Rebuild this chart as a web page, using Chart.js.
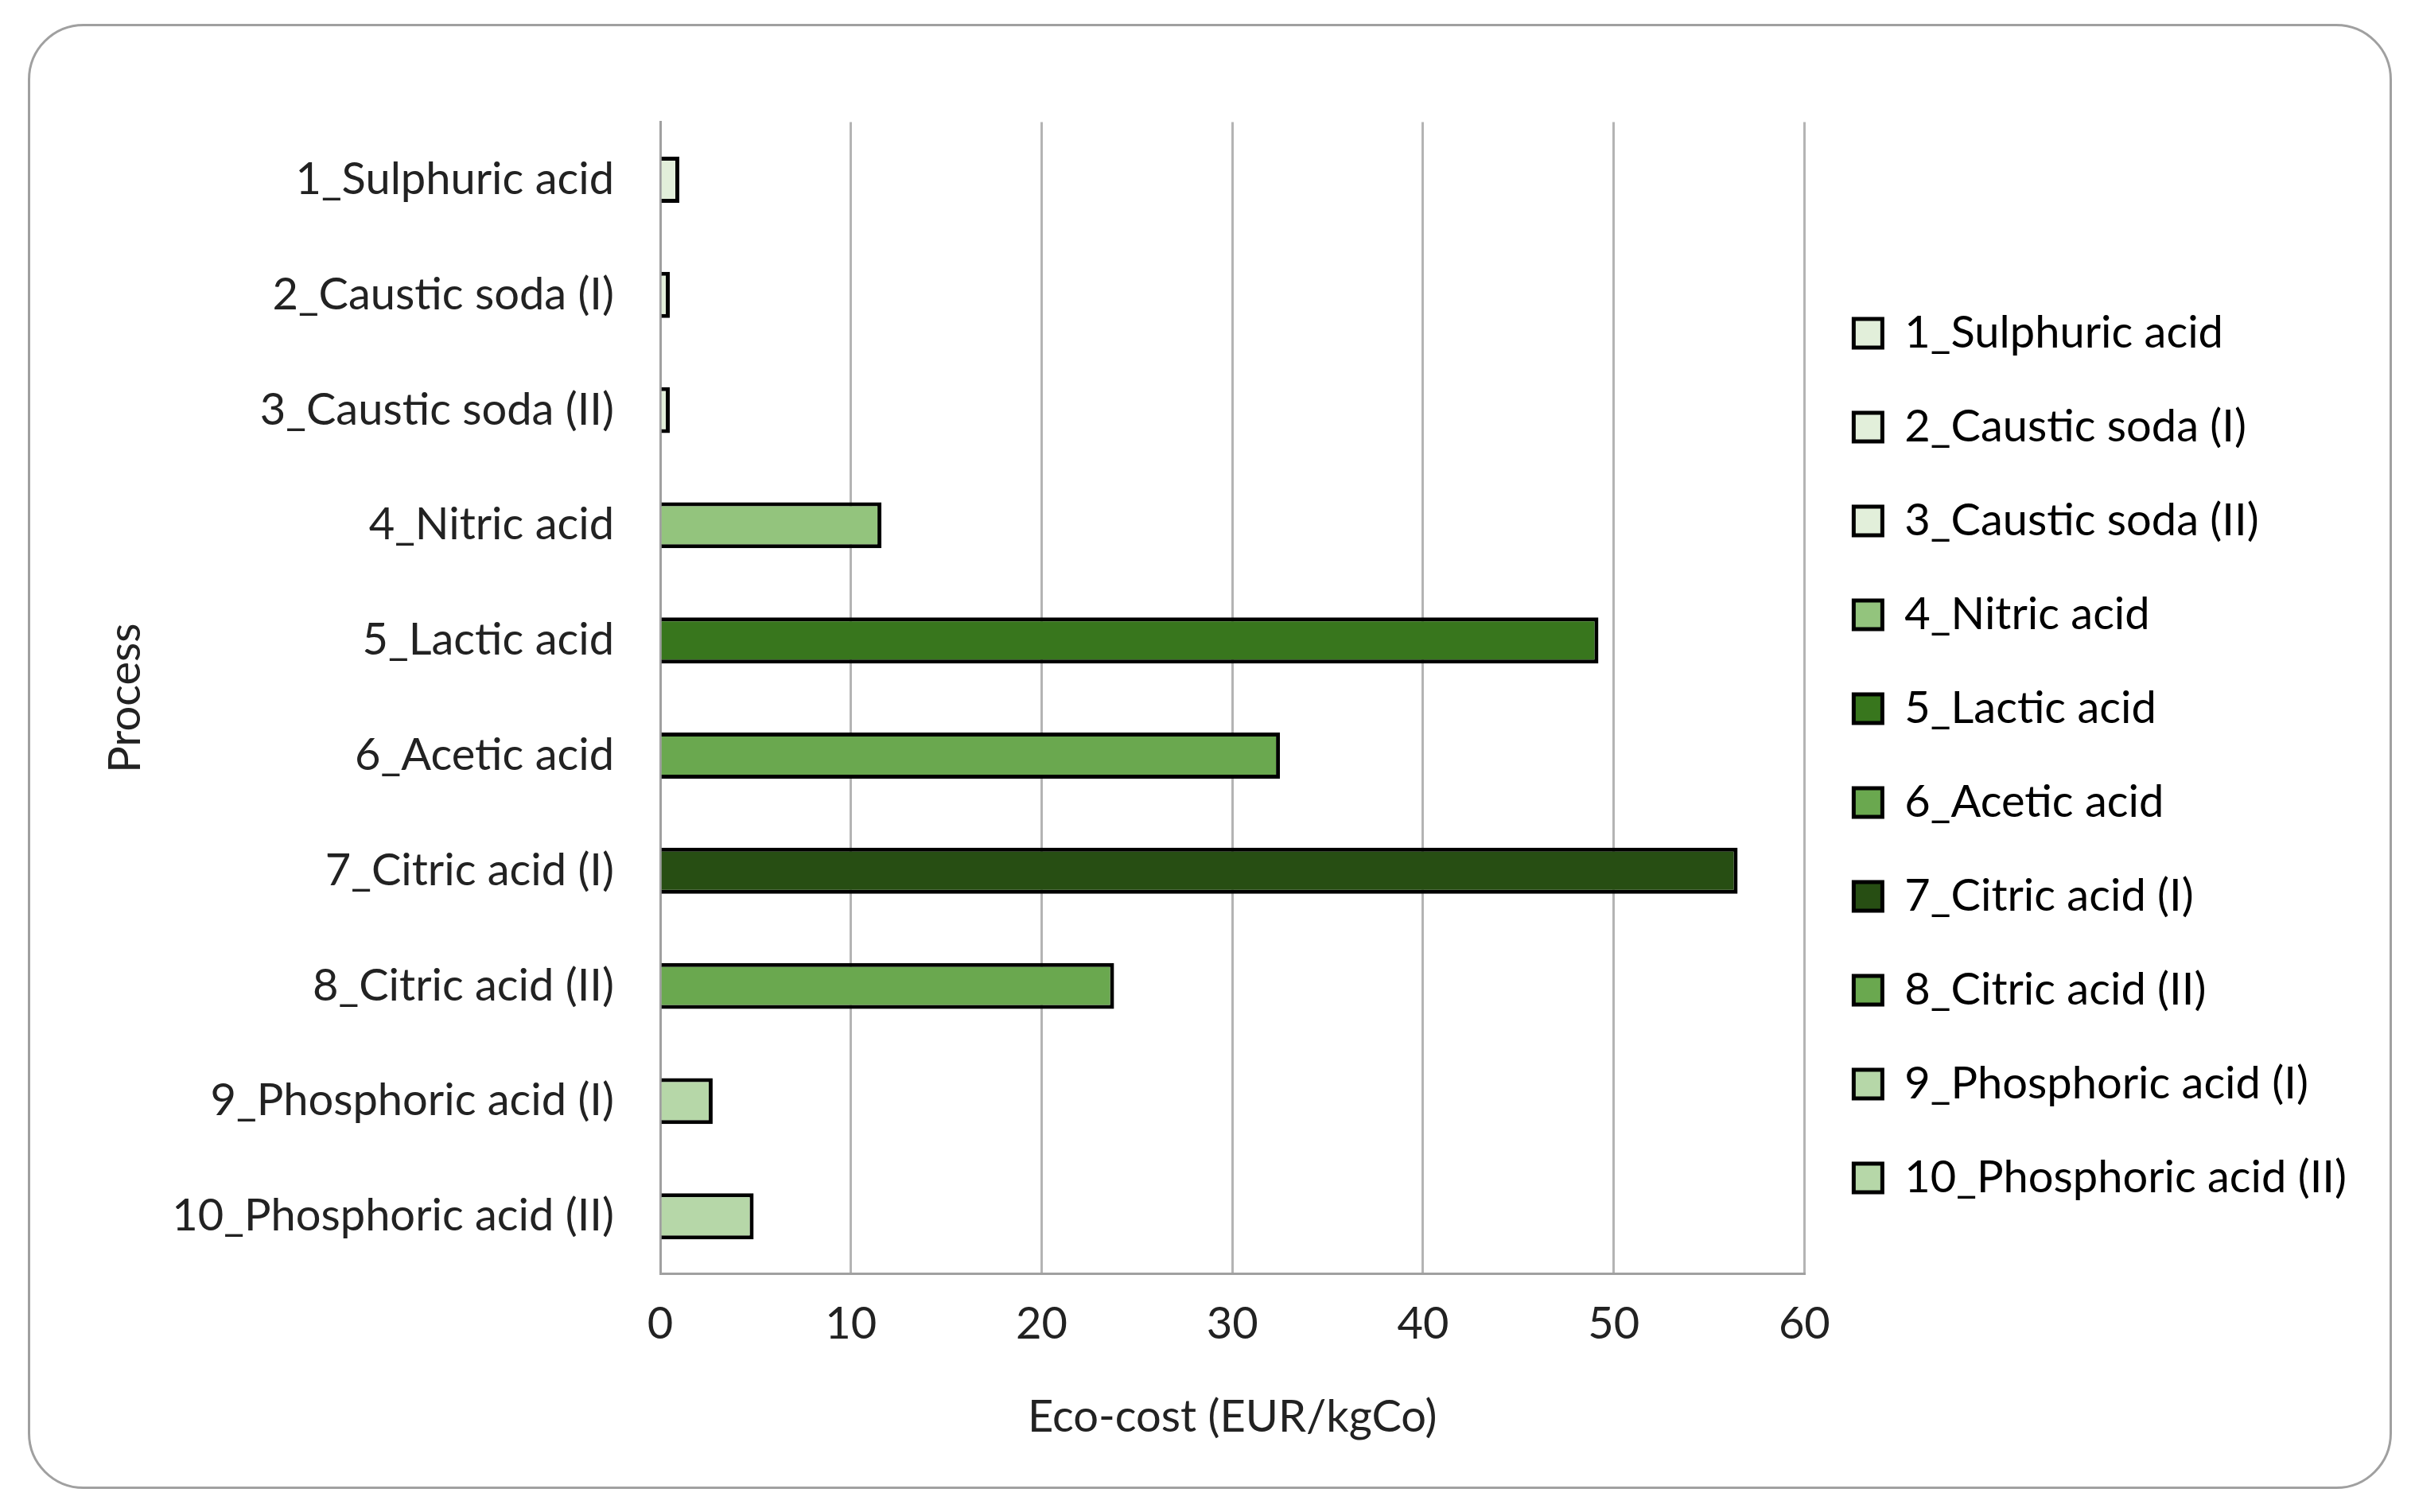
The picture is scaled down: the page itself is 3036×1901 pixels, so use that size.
<!DOCTYPE html>
<html>
<head>
<meta charset="utf-8">
<script src="https://cdn.jsdelivr.net/npm/chart.js@4"></script>
<style>
  html, body { margin: 0; padding: 0; background: #fff; }
  #frame {
    position: absolute; left: 35px; top: 30px; width: 2972px; height: 1842px;
    border: 3px solid #a0a0a0; border-radius: 70px; box-sizing: border-box;
  }
  #wrap { position: absolute; left: 80px; top: 70px; width: 2900px; height: 1770px; }
</style>
</head>
<body>
<div id="frame"></div>
<div id="wrap"><canvas id="chart" width="2900" height="1770"></canvas></div>
<script>
// --- Data ---
const processes = [
    '1_Sulphuric acid', '2_Caustic soda (I)', '3_Caustic soda (II)', '4_Nitric acid',
    '5_Lactic acid', '6_Acetic acid', '7_Citric acid (I)', '8_Citric acid (II)',
    '9_Phosphoric acid (I)', '10_Phosphoric acid (II)'
];
const ecoCost = [1.0, 0.5, 0.5, 11.6, 49.2, 32.5, 56.5, 23.8, 2.75, 4.9];
const barColors = [
    '#e2efda', '#e2efda', '#e2efda', '#93c47d', '#38761d',
    '#6aa84f', '#274e13', '#6aa84f', '#b6d7a8', '#b6d7a8'
];
const xTicks = [0, 10, 20, 30, 40, 50, 60];

const font = 'Lato, "Open Sans", sans-serif';
Chart.defaults.font.family = font;
Chart.defaults.color = '#222';

new Chart(document.getElementById('chart'), {
    type: 'bar',
    data: {
        labels: processes,
        datasets: [{
            data: ecoCost,
            backgroundColor: barColors,
            borderColor: '#000',
            borderWidth: 5,
            borderSkipped: 'start',
            categoryPercentage: 0.4,
            barPercentage: 1
        }]
    },
    options: {
        indexAxis: 'y',
        responsive: false,
        animation: false,
        devicePixelRatio: 1,
        layout: { padding: { top: 10, right: 20, bottom: 20, left: 40 } },
        plugins: {
            tooltip: { enabled: false },
            legend: {
                position: 'right',
                labels: {
                    font: { size: 56 },
                    boxWidth: 36, boxHeight: 36,
                    padding: 62,
                    generateLabels: () => processes.map((p, i) => ({
                        text: p, fillStyle: barColors[i], strokeStyle: '#000',
                        lineWidth: 5, index: i
                    }))
                },
                onClick: () => {}
            }
        },
        scales: {
            x: {
                min: 0, max: 60,
                afterBuildTicks: axis => { axis.ticks = xTicks.map(v => ({ value: v })); },
                grid: { color: '#b4b4b4', lineWidth: 3, drawTicks: false },
                border: { color: '#a0a0a0', width: 3 },
                ticks: { font: { size: 56 }, padding: 30 },
                title: { display: true, text: 'Eco-cost (EUR/kgCo)', font: { size: 56 }, padding: { top: 20 } }
            },
            y: {
                grid: { display: false },
                border: { color: '#a0a0a0', width: 3 },
                ticks: { font: { size: 56 }, padding: 50 },
                title: { display: true, text: 'Process', font: { size: 56 } }
            }
        }
    }
});
</script>
</body>
</html>
